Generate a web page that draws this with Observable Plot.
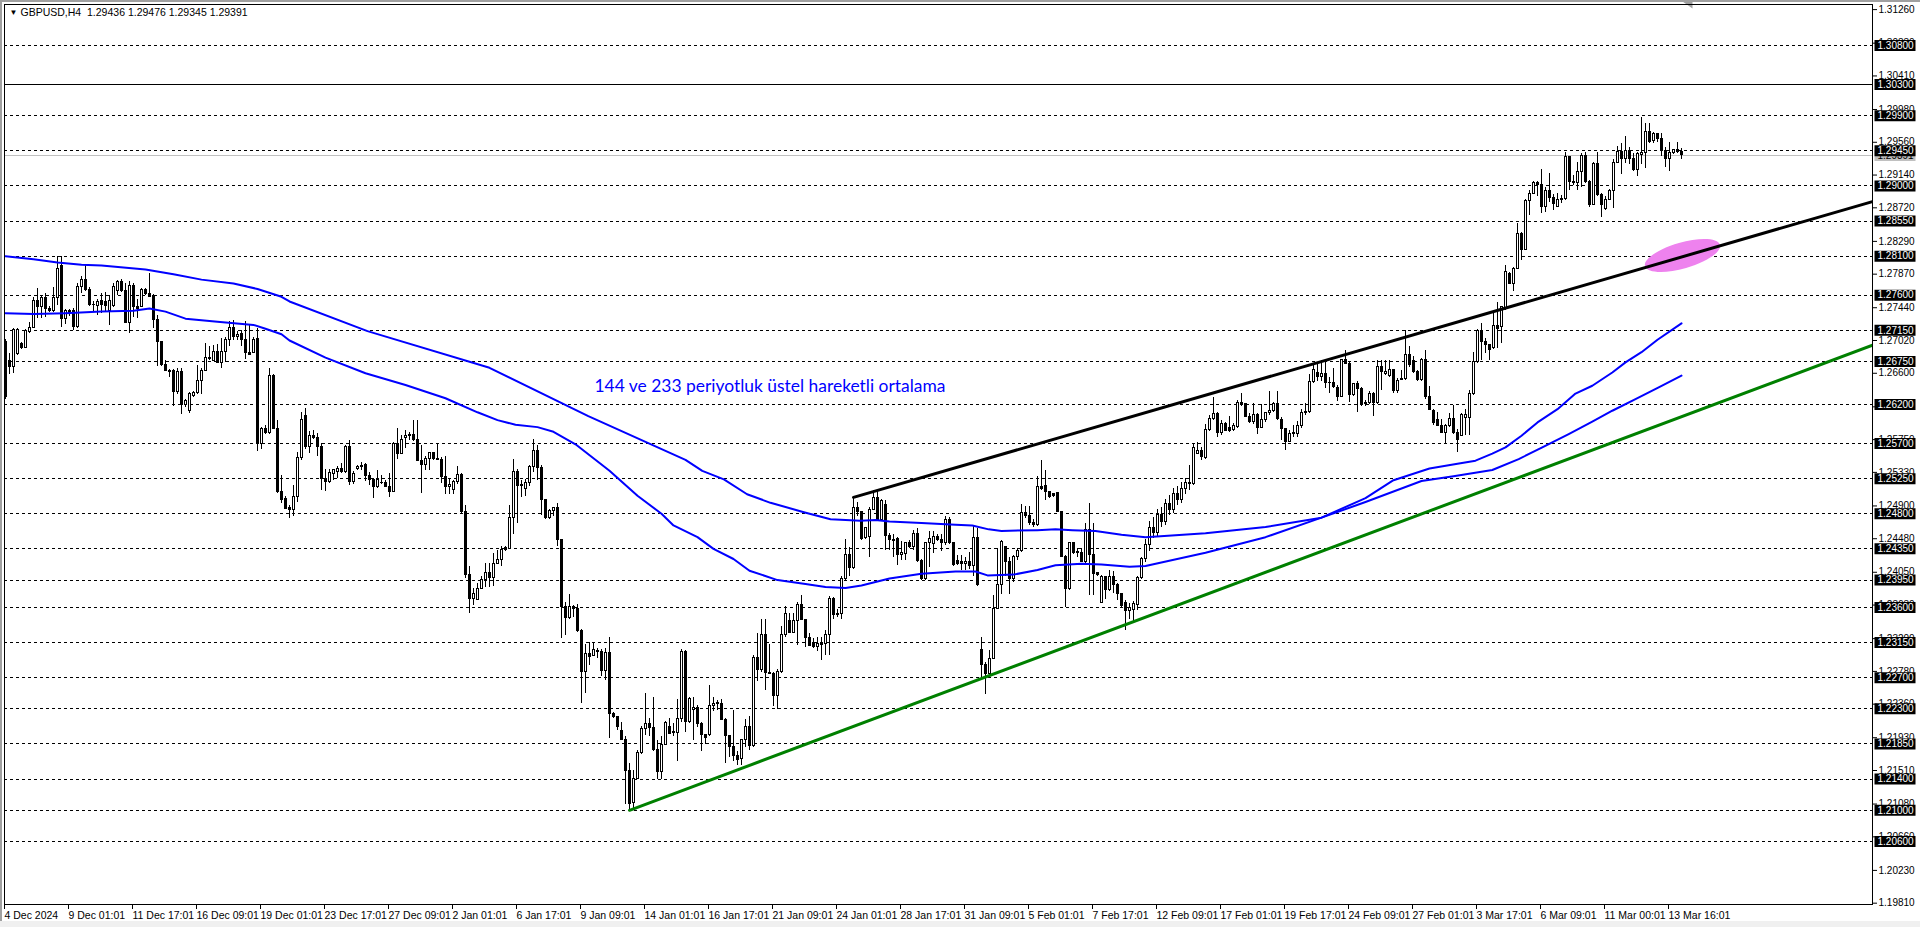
<!DOCTYPE html>
<html><head><meta charset="utf-8">
<script src="https://cdn.jsdelivr.net/npm/d3@7"></script>
<script src="https://cdn.jsdelivr.net/npm/@observablehq/plot@0.6"></script>
<style>
html,body{margin:0;padding:0;background:#fff;}
#chart{position:relative;width:1920px;height:927px;overflow:hidden;}
svg{display:block}
.chrome{position:absolute;pointer-events:none;}
</style></head><body><div id="chart"></div>
<script>
// ---- GBPUSD H4 candles (bar index 0 = 4 Dec 2024) ----
const open = [
1.2700,1.2676,1.2668,1.2685,1.2698,1.2693,1.2713,1.2718,1.2753,1.2745,
1.2757,1.2742,1.2740,1.2756,1.2798,1.2730,1.2740,1.2740,1.2719,1.2770,
1.2780,1.2767,1.2747,1.2746,1.2753,1.2751,1.2740,1.2746,1.2766,1.2777,
1.2766,1.2725,1.2772,1.2745,1.2745,1.2767,1.2762,1.2759,1.2728,1.2700,
1.2670,1.2663,1.2663,1.2636,1.2662,1.2619,1.2612,1.2631,1.2635,1.2650,
1.2663,1.2680,1.2676,1.2687,1.2673,1.2687,1.2702,1.2718,1.2706,1.2710,
1.2702,1.2686,1.2686,1.2704,1.2570,1.2589,1.2583,1.2656,1.2589,1.2508,
1.2499,1.2488,1.2485,1.2502,1.2552,1.2605,1.2566,1.2580,1.2577,1.2565,
1.2524,1.2521,1.2531,1.2533,1.2537,1.2533,1.2565,1.2521,1.2537,1.2541,
1.2542,1.2529,1.2523,1.2514,1.2520,1.2520,1.2514,1.2508,1.2569,1.2557,
1.2577,1.2579,1.2581,1.2574,1.2547,1.2542,1.2550,1.2558,1.2550,1.2549,
1.2527,1.2514,1.2510,1.2521,1.2530,1.2482,1.2401,1.2371,1.2370,1.2384,
1.2395,1.2404,1.2398,1.2416,1.2421,1.2436,1.2435,1.2475,1.2533,1.2517,
1.2512,1.2519,1.2540,1.2561,1.2539,1.2497,1.2474,1.2484,1.2488,1.2446,
1.2360,1.2346,1.2360,1.2358,1.2330,1.2277,1.2300,1.2298,1.2304,1.2303,
1.2279,1.2301,1.2224,1.2219,1.2202,1.2190,1.2151,1.2109,1.2140,1.2173,
1.2204,1.2210,1.2205,1.2177,1.2149,1.2184,1.2207,1.2200,1.2199,1.2217,
1.2303,1.2213,1.2229,1.2231,1.2211,1.2196,1.2196,1.2234,1.2236,1.2236,
1.2216,1.2195,1.2181,1.2169,1.2166,1.2190,1.2207,1.2182,1.2295,1.2280,
1.2325,1.2276,1.2275,1.2246,1.2277,1.2325,1.2343,1.2327,1.2343,1.2363,
1.2344,1.2321,1.2314,1.2309,1.2312,1.2313,1.2325,1.2371,1.2350,1.2352,
1.2397,1.2427,1.2411,1.2488,1.2482,1.2449,1.2450,1.2485,1.2500,1.2472,
1.2491,1.2451,1.2446,1.2448,1.2427,1.2428,1.2442,1.2437,1.2454,1.2420,
1.2397,1.2442,1.2441,1.2450,1.2447,1.2442,1.2472,1.2442,1.2419,1.2418,
1.2416,1.2418,1.2413,1.2449,1.2306,1.2286,1.2275,1.2294,1.2358,1.2389,
1.2437,1.2418,1.2397,1.2425,1.2432,1.2481,1.2477,1.2468,1.2465,1.2514,
1.2515,1.2508,1.2505,1.2506,1.2482,1.2425,1.2383,1.2442,1.2431,1.2430,
1.2418,1.2459,1.2427,1.2404,1.2366,1.2399,1.2382,1.2399,1.2389,1.2377,
1.2365,1.2356,1.2357,1.2363,1.2398,1.2422,1.2440,1.2462,1.2455,1.2478,
1.2470,1.2492,1.2485,1.2505,1.2498,1.2512,1.2520,1.2518,1.2556,1.2560,
1.2552,1.2587,1.2602,1.2608,1.2584,1.2595,1.2590,1.2587,1.2591,1.2622,
1.2620,1.2604,1.2597,1.2606,1.2590,1.2600,1.2609,1.2612,1.2620,1.2600,
1.2589,1.2572,1.2582,1.2582,1.2592,1.2609,1.2610,1.2649,1.2660,1.2655,
1.2659,1.2647,1.2648,1.2641,1.2630,1.2677,1.2672,1.2632,1.2646,1.2640,
1.2620,1.2622,1.2634,1.2622,1.2668,1.2659,1.2656,1.2664,1.2637,1.2651,
1.2653,1.2683,1.2676,1.2661,1.2651,1.2677,1.2630,1.2612,1.2600,1.2593,
1.2584,1.2592,1.2602,1.2583,1.2580,1.2603,1.2603,1.2634,1.2675,1.2714,
1.2700,1.2696,1.2692,1.2721,1.2719,1.2743,1.2787,1.2774,1.2794,1.2838,
1.2818,1.2881,1.2890,1.2904,1.2901,1.2873,1.2894,1.2884,1.2873,1.2882,
1.2883,1.2937,1.2905,1.2904,1.2918,1.2939,1.2905,1.2876,1.2928,1.2888,
1.2870,1.2882,1.2893,1.2930,1.2943,1.2934,1.2945,1.2934,1.2920,1.2940,
1.2942,1.2969,1.2957,1.2966,1.2960,1.2945,1.2934,1.2942,1.2946,1.29436];
const high = [
1.2703,1.2685,1.2718,1.2717,1.2700,1.2716,1.2725,1.2757,1.2768,1.2760,
1.2762,1.2745,1.2770,1.2810,1.2810,1.2742,1.2742,1.2743,1.2775,1.2784,
1.2798,1.2770,1.2752,1.2754,1.2762,1.2764,1.2760,1.2775,1.2779,1.2780,
1.2775,1.2777,1.2775,1.2755,1.2768,1.2768,1.2788,1.2761,1.2734,1.2701,
1.2677,1.2665,1.2665,1.2666,1.2666,1.2627,1.2636,1.2637,1.2670,1.2666,
1.2698,1.2694,1.2695,1.2697,1.2705,1.2706,1.2726,1.2727,1.2713,1.2715,
1.2726,1.2723,1.2706,1.2718,1.2590,1.2593,1.2666,1.2659,1.2600,1.2529,
1.2502,1.2491,1.2516,1.2558,1.2610,1.2615,1.2585,1.2587,1.2583,1.2570,
1.2537,1.2537,1.2536,1.2540,1.2545,1.2568,1.2574,1.2534,1.2542,1.2546,
1.2544,1.2533,1.2525,1.2536,1.2529,1.2523,1.2531,1.2571,1.2589,1.2580,
1.2587,1.2584,1.2600,1.2600,1.2568,1.2553,1.2559,1.2559,1.2570,1.2552,
1.2553,1.2525,1.2523,1.2540,1.2532,1.2491,1.2412,1.2384,1.2391,1.2399,
1.2416,1.2416,1.2429,1.2433,1.2438,1.2438,1.2491,1.2549,1.2537,1.2522,
1.2524,1.2542,1.2575,1.2567,1.2542,1.2498,1.2486,1.2488,1.2493,1.2447,
1.2366,1.2376,1.2362,1.2364,1.2332,1.2313,1.2315,1.2315,1.2307,1.2306,
1.2307,1.2322,1.2225,1.2220,1.2212,1.2194,1.2160,1.2151,1.2176,1.2208,
1.2250,1.2217,1.2245,1.2190,1.2194,1.2214,1.2217,1.2211,1.2242,1.2306,
1.2305,1.2245,1.2245,1.2234,1.2212,1.2197,1.2260,1.2244,1.2241,1.2242,
1.2217,1.2196,1.2228,1.2175,1.2191,1.2216,1.2220,1.2298,1.2327,1.2344,
1.2344,1.2313,1.2277,1.2281,1.2335,1.2361,1.2352,1.2352,1.2366,1.2375,
1.2345,1.2326,1.2320,1.2322,1.2322,1.2330,1.2374,1.2373,1.2357,1.2400,
1.2447,1.2437,1.2500,1.2494,1.2482,1.2463,1.2488,1.2510,1.2508,1.2498,
1.2497,1.2455,1.2453,1.2450,1.2444,1.2443,1.2446,1.2458,1.2461,1.2422,
1.2443,1.2457,1.2457,1.2454,1.2454,1.2476,1.2475,1.2443,1.2426,1.2426,
1.2424,1.2430,1.2464,1.2461,1.2321,1.2290,1.2305,1.2375,1.2435,1.2446,
1.2438,1.2424,1.2427,1.2435,1.2492,1.2489,1.2489,1.2472,1.2528,1.2548,
1.2535,1.2509,1.2506,1.2507,1.2483,1.2427,1.2443,1.2443,1.2436,1.2435,
1.2468,1.2493,1.2467,1.2405,1.2401,1.2400,1.2407,1.2406,1.2391,1.2378,
1.2369,1.2365,1.2367,1.2399,1.2424,1.2447,1.2470,1.2475,1.2485,1.2488,
1.2498,1.2503,1.2512,1.2515,1.2520,1.2525,1.2542,1.2570,1.2571,1.2565,
1.2594,1.2606,1.2629,1.2610,1.2600,1.2597,1.2604,1.2596,1.2625,1.2634,
1.2621,1.2609,1.2621,1.2608,1.2620,1.2610,1.2637,1.2623,1.2637,1.2603,
1.2589,1.2587,1.2593,1.2598,1.2614,1.2621,1.2658,1.2671,1.2674,1.2676,
1.2676,1.2655,1.2666,1.2644,1.2678,1.2689,1.2674,1.2647,1.2649,1.2642,
1.2625,1.2637,1.2636,1.2676,1.2676,1.2676,1.2676,1.2665,1.2653,1.2663,
1.2715,1.2694,1.2681,1.2664,1.2679,1.2689,1.2643,1.2614,1.2610,1.2601,
1.2594,1.2609,1.2619,1.2588,1.2608,1.2613,1.2638,1.2687,1.2716,1.2724,
1.2705,1.2697,1.2738,1.2751,1.2746,1.2798,1.2789,1.2796,1.2852,1.2840,
1.2883,1.2894,1.2906,1.2906,1.2921,1.2898,1.2916,1.2889,1.2891,1.2888,
1.2943,1.2938,1.2913,1.2930,1.2942,1.2943,1.2907,1.2930,1.2943,1.2891,
1.2886,1.2895,1.2934,1.2950,1.2955,1.2963,1.2949,1.2941,1.2943,1.2988,
1.2980,1.2980,1.2969,1.2967,1.2967,1.2949,1.2956,1.2947,1.2956,1.29476];
const low = [
1.2627,1.2659,1.2660,1.2683,1.2690,1.2692,1.2711,1.2717,1.2730,1.2730,
1.2732,1.2738,1.2738,1.2747,1.2719,1.2723,1.2733,1.2715,1.2717,1.2762,
1.2765,1.2745,1.2739,1.2734,1.2736,1.2738,1.2721,1.2744,1.2760,1.2764,
1.2724,1.2711,1.2731,1.2730,1.2744,1.2760,1.2757,1.2717,1.2669,1.2669,
1.2662,1.2655,1.2617,1.2633,1.2607,1.2616,1.2608,1.2629,1.2633,1.2633,
1.2663,1.2676,1.2675,1.2672,1.2666,1.2674,1.2694,1.2702,1.2702,1.2694,
1.2678,1.2683,1.2685,1.2560,1.2562,1.2582,1.2582,1.2589,1.2506,1.2493,
1.2485,1.2474,1.2476,1.2494,1.2548,1.2562,1.2557,1.2575,1.2553,1.2510,
1.2508,1.2519,1.2523,1.2525,1.2532,1.2532,1.2516,1.2518,1.2535,1.2536,
1.2521,1.2516,1.2500,1.2512,1.2518,1.2514,1.2501,1.2507,1.2549,1.2557,
1.2563,1.2574,1.2573,1.2547,1.2506,1.2536,1.2535,1.2548,1.2548,1.2519,
1.2505,1.2505,1.2505,1.2518,1.2479,1.2397,1.2352,1.2363,1.2369,1.2383,
1.2386,1.2386,1.2387,1.2415,1.2413,1.2431,1.2435,1.2454,1.2467,1.2501,
1.2502,1.2515,1.2533,1.2522,1.2478,1.2472,1.2472,1.2477,1.2438,1.2320,
1.2324,1.2345,1.2347,1.2328,1.2237,1.2250,1.2286,1.2297,1.2294,1.2272,
1.2266,1.2192,1.2217,1.2202,1.2189,1.2108,1.2100,1.2101,1.2140,1.2172,
1.2196,1.2194,1.2175,1.2139,1.2140,1.2183,1.2198,1.2194,1.2162,1.2213,
1.2200,1.2211,1.2190,1.2206,1.2175,1.2184,1.2194,1.2226,1.2228,1.2215,
1.2160,1.2168,1.2162,1.2158,1.2157,1.2181,1.2177,1.2181,1.2265,1.2277,
1.2254,1.2274,1.2233,1.2229,1.2275,1.2322,1.2326,1.2326,1.2311,1.2343,
1.2309,1.2310,1.2307,1.2303,1.2292,1.2298,1.2298,1.2345,1.2347,1.2345,
1.2395,1.2399,1.2408,1.2476,1.2446,1.2447,1.2424,1.2484,1.2471,1.2470,
1.2433,1.2433,1.2424,1.2414,1.2420,1.2420,1.2435,1.2433,1.2418,1.2395,
1.2395,1.2411,1.2429,1.2444,1.2431,1.2439,1.2441,1.2412,1.2414,1.2407,
1.2407,1.2409,1.2399,1.2387,1.2267,1.2249,1.2271,1.2293,1.2357,1.2377,
1.2399,1.2377,1.2392,1.2420,1.2430,1.2474,1.2465,1.2463,1.2464,1.2510,
1.2497,1.2499,1.2501,1.2481,1.2425,1.2360,1.2382,1.2428,1.2424,1.2417,
1.2416,1.2375,1.2375,1.2399,1.2365,1.2370,1.2381,1.2378,1.2369,1.2360,
1.2331,1.2344,1.2339,1.2356,1.2396,1.2418,1.2432,1.2448,1.2450,1.2462,
1.2465,1.2478,1.2480,1.2490,1.2493,1.2505,1.2510,1.2516,1.2556,1.2548,
1.2550,1.2585,1.2600,1.2578,1.2580,1.2585,1.2584,1.2585,1.2589,1.2618,
1.2603,1.2596,1.2595,1.2582,1.2589,1.2597,1.2606,1.2610,1.2600,1.2574,
1.2561,1.2571,1.2578,1.2578,1.2589,1.2606,1.2608,1.2647,1.2649,1.2650,
1.2640,1.2634,1.2641,1.2624,1.2629,1.2671,1.2623,1.2630,1.2610,1.2617,
1.2618,1.2620,1.2604,1.2620,1.2638,1.2657,1.2655,1.2634,1.2634,1.2651,
1.2651,1.2667,1.2660,1.2650,1.2650,1.2627,1.2612,1.2593,1.2592,1.2583,
1.2570,1.2591,1.2582,1.2558,1.2579,1.2580,1.2580,1.2632,1.2672,1.2677,
1.2685,1.2677,1.2691,1.2692,1.2698,1.2741,1.2774,1.2765,1.2793,1.2804,
1.2817,1.2862,1.2889,1.2886,1.2865,1.2866,1.2879,1.2868,1.2872,1.2877,
1.2882,1.2894,1.2900,1.2894,1.2898,1.2903,1.2872,1.2875,1.2886,1.2859,
1.2869,1.2881,1.2871,1.2929,1.2915,1.2929,1.2928,1.2918,1.2912,1.2928,
1.2922,1.2955,1.2955,1.2956,1.2938,1.2924,1.2918,1.2940,1.2941,1.29345];
const close = [
1.2630,1.2668,1.2716,1.2716,1.2693,1.2714,1.2718,1.2753,1.2745,1.2757,
1.2742,1.2740,1.2756,1.2794,1.2730,1.2740,1.2736,1.2719,1.2770,1.2780,
1.2767,1.2747,1.2748,1.2751,1.2747,1.2746,1.2753,1.2770,1.2777,1.2766,
1.2725,1.2772,1.2745,1.2742,1.2767,1.2761,1.2758,1.2728,1.2700,1.2670,
1.2663,1.2662,1.2636,1.2662,1.2619,1.2624,1.2633,1.2635,1.2650,1.2663,
1.2680,1.2678,1.2687,1.2673,1.2687,1.2702,1.2718,1.2706,1.2709,1.2702,
1.2686,1.2684,1.2703,1.2570,1.2589,1.2583,1.2656,1.2589,1.2508,1.2497,
1.2486,1.2485,1.2502,1.2552,1.2600,1.2566,1.2580,1.2577,1.2565,1.2524,
1.2521,1.2532,1.2536,1.2537,1.2533,1.2565,1.2521,1.2531,1.2540,1.2540,
1.2529,1.2523,1.2514,1.2523,1.2519,1.2514,1.2508,1.2569,1.2557,1.2574,
1.2579,1.2581,1.2574,1.2547,1.2542,1.2550,1.2558,1.2550,1.2549,1.2527,
1.2514,1.2517,1.2521,1.2530,1.2482,1.2401,1.2371,1.2377,1.2384,1.2395,
1.2404,1.2398,1.2416,1.2421,1.2434,1.2434,1.2475,1.2533,1.2516,1.2516,
1.2519,1.2540,1.2561,1.2539,1.2497,1.2474,1.2484,1.2488,1.2446,1.2360,
1.2346,1.2360,1.2358,1.2330,1.2277,1.2300,1.2297,1.2305,1.2303,1.2279,
1.2301,1.2224,1.2219,1.2207,1.2190,1.2151,1.2108,1.2140,1.2173,1.2204,
1.2210,1.2205,1.2177,1.2149,1.2184,1.2212,1.2198,1.2199,1.2217,1.2303,
1.2213,1.2242,1.2231,1.2211,1.2196,1.2193,1.2234,1.2236,1.2237,1.2216,
1.2195,1.2181,1.2169,1.2165,1.2190,1.2207,1.2182,1.2295,1.2280,1.2325,
1.2276,1.2275,1.2246,1.2277,1.2325,1.2351,1.2327,1.2343,1.2363,1.2344,
1.2321,1.2311,1.2309,1.2313,1.2313,1.2325,1.2371,1.2350,1.2352,1.2397,
1.2427,1.2411,1.2488,1.2482,1.2448,1.2462,1.2485,1.2500,1.2472,1.2496,
1.2451,1.2446,1.2445,1.2427,1.2430,1.2442,1.2437,1.2454,1.2420,1.2397,
1.2442,1.2448,1.2450,1.2447,1.2442,1.2472,1.2442,1.2414,1.2416,1.2416,
1.2418,1.2413,1.2449,1.2389,1.2286,1.2275,1.2294,1.2358,1.2389,1.2444,
1.2418,1.2397,1.2425,1.2432,1.2481,1.2477,1.2468,1.2465,1.2514,1.2512,
1.2508,1.2501,1.2503,1.2482,1.2425,1.2383,1.2442,1.2430,1.2430,1.2418,
1.2459,1.2427,1.2403,1.2402,1.2399,1.2382,1.2399,1.2389,1.2377,1.2362,
1.2356,1.2359,1.2364,1.2398,1.2422,1.2440,1.2462,1.2455,1.2478,1.2470,
1.2492,1.2485,1.2505,1.2498,1.2512,1.2520,1.2518,1.2564,1.2560,1.2553,
1.2587,1.2602,1.2608,1.2584,1.2595,1.2586,1.2586,1.2592,1.2622,1.2619,
1.2604,1.2597,1.2606,1.2590,1.2600,1.2609,1.2612,1.2620,1.2601,1.2589,
1.2572,1.2582,1.2583,1.2592,1.2609,1.2610,1.2649,1.2664,1.2655,1.2659,
1.2647,1.2648,1.2642,1.2630,1.2677,1.2672,1.2632,1.2646,1.2640,1.2619,
1.2622,1.2634,1.2622,1.2668,1.2662,1.2662,1.2664,1.2637,1.2650,1.2653,
1.2683,1.2670,1.2661,1.2651,1.2677,1.2630,1.2613,1.2596,1.2593,1.2584,
1.2593,1.2602,1.2583,1.2575,1.2607,1.2607,1.2634,1.2675,1.2714,1.2700,
1.2696,1.2690,1.2721,1.2717,1.2745,1.2790,1.2775,1.2794,1.2838,1.2818,
1.2881,1.2890,1.2904,1.2901,1.2873,1.2894,1.2884,1.2877,1.2882,1.2883,
1.2937,1.2905,1.2904,1.2918,1.2939,1.2905,1.2876,1.2928,1.2888,1.2875,
1.2882,1.2893,1.2930,1.2943,1.2934,1.2945,1.2934,1.2920,1.2941,1.2942,
1.2969,1.2956,1.2966,1.2960,1.2945,1.2934,1.2942,1.2946,1.2943,1.29391];

// ---- moving averages (bar index, value) ----
const ema144Bar = [0,7,15,24,32,36,40,45,53,62,65,69,71,80,90,100,110,118,123,127.5,133,137,142.5,151,158,164,167,173,177,182,186,193,200,205,210,214,221,229,237.5,242.5,245.5,252,258,262.5,269,274,281,285,300,315,329,340,347,356,363,367.5,371.7,375,379,383,388,392.5,396.7,401.7,405,409,413,419];
const ema144Val = [1.2737,1.2736,1.2737,1.2739,1.2740,1.2743,1.2739,1.2730,1.2726,1.2722,1.2717,1.2710,1.2702,1.2680,1.2660,1.2645,1.2628,1.2610,1.2600,1.2594,1.2591,1.2585,1.2569,1.2535,1.2503,1.2480,1.2465,1.2450,1.2435,1.2422,1.2407,1.2395,1.2390,1.2386,1.2385,1.2388,1.2397,1.2403,1.2406,1.2406,1.2401,1.2402,1.2408,1.2414,1.2416,1.2415,1.2412,1.2413,1.2430,1.2450,1.2475,1.2500,1.2523,1.2538,1.2544,1.2548,1.2557,1.2565,1.2580,1.2597,1.2614,1.2634,1.2644,1.2661,1.2674,1.2687,1.2703,1.2724];
const ema233Bar = [0,7,13,19,24,35,42,49,57,63,69,71,90.5,121,145.7,170,174.2,179.6,185.4,191.25,199.6,206.25,213.75,217.5,221,229,237.5,241.7,245.8,249,258,262.5,266.7,272.5,279,285,300,315,329,340,354,362,371.7,378.3,384.2,390.8,396.7,401.7,407.5,413.3,419];
const ema233Val = [1.2810,1.2806,1.2802,1.2799,1.2798,1.2793,1.2787,1.2780,1.2775,1.2768,1.2758,1.2752,1.2714,1.2667,1.2605,1.2549,1.2535,1.2524,1.2505,1.2494,1.2482,1.2473,1.2471,1.2472,1.2470,1.2468,1.2466,1.2465,1.2460,1.2458,1.2459,1.2460,1.2459,1.2458,1.2453,1.2450,1.2455,1.2463,1.2475,1.2495,1.2522,1.2528,1.2536,1.2550,1.2565,1.2582,1.2598,1.2612,1.2627,1.2642,1.2657];

// ---- drawn objects ----
const resistanceBar = [212, 466.75], resistanceVal = [1.2501, 1.2880];
const supportBar = [156, 466.75], supportVal = [1.2100, 1.2696];
const zoneBar = [419.25], zoneVal = [1.2811];
const noteBar = [147.25], noteVal = [1.2643];
const noteText = ["144 ve 233 periyotluk üstel hareketli ortalama"];

// ---- axes ----
const timeLabels = ["4 Dec 2024","9 Dec 01:01","11 Dec 17:01","16 Dec 09:01","19 Dec 01:01","23 Dec 17:01","27 Dec 09:01","2 Jan 01:01","6 Jan 17:01","9 Jan 09:01","14 Jan 01:01","16 Jan 17:01","21 Jan 09:01","24 Jan 01:01","28 Jan 17:01","31 Jan 09:01","5 Feb 01:01","7 Feb 17:01","12 Feb 09:01","17 Feb 01:01","19 Feb 17:01","24 Feb 09:01","27 Feb 01:01","3 Mar 17:01","6 Mar 09:01","11 Mar 00:01","13 Mar 16:01"];
const barsPerTimeLabel = 16;
const priceTicks = [1.31260,1.30830,1.30410,1.29980,1.29560,1.29140,1.28720,1.28290,1.27870,1.27440,1.27020,1.26600,1.26170,1.25750,1.25330,1.24900,1.24480,1.24050,1.23630,1.23200,1.22780,1.22360,1.21930,1.21510,1.21080,1.20660,1.20230,1.19810];
const dashedLevels = [1.30800,1.29900,1.29450,1.29000,1.28550,1.28100,1.27600,1.27150,1.26750,1.26200,1.25700,1.25250,1.24800,1.24350,1.23950,1.23600,1.23150,1.22700,1.22300,1.21850,1.21400,1.21000,1.20600];
const solidLevels = [1.30300];
const headerSymbol = "GBPUSD,H4";

// ---- build ----
const bars = open.map((o, i) => ({i, o, h: high[i], l: low[i], c: close[i]}));
const last = bars[bars.length - 1];
const ema144 = ema144Bar.map((b, k) => ({b, v: ema144Val[k]}));
const ema233 = ema233Bar.map((b, k) => ({b, v: ema233Val[k]}));
const resistance = resistanceBar.map((b, k) => ({b, v: resistanceVal[k]}));
const support = supportBar.map((b, k) => ({b, v: supportVal[k]}));
const zone = zoneBar.map((b, k) => ({b, v: zoneVal[k]}));
const notes = noteBar.map((b, k) => ({b, v: noteVal[k], t: noteText[k]}));
const timeTicks = timeLabels.map((_, k) => k * barsPerTimeLabel);
const boxLevels = [...dashedLevels, ...solidLevels];
const fmt5 = d => d.toFixed(5);
const header = `${headerSymbol}  ${[last.o, last.h, last.l, last.c].map(fmt5).join(" ")}`;

const ellipseSymbol = {
  draw(ctx) {
    const a = 39, b = 13, k = 0.5523;
    ctx.moveTo(a, 0);
    ctx.bezierCurveTo(a, k * b, k * a, b, 0, b);
    ctx.bezierCurveTo(-k * a, b, -a, k * b, -a, 0);
    ctx.bezierCurveTo(-a, -k * b, -k * a, -b, 0, -b);
    ctx.bezierCurveTo(k * a, -b, a, -k * b, a, 0);
    ctx.closePath();
  }
};
const boxSymbol = { draw(ctx) { ctx.rect(-20.5, -5.5, 41, 11); } };
const shiftSymbol = { draw(ctx) { ctx.moveTo(-5, 0); ctx.lineTo(5, 0); ctx.lineTo(5, 7); ctx.closePath(); } };

const AX = "Liberation Sans, Arial, sans-serif";
const chart = Plot.plot({
  width: 1920, height: 927,
  marginLeft: 4, marginRight: 48, marginTop: 4, marginBottom: 23,
  x: {type: "linear", domain: [-0.25, 466.75], axis: null},
  y: {type: "linear", domain: [1.19793, 1.313254], axis: null},
  style: {background: "white", fontFamily: AX, color: "black"},
  marks: [
    Plot.ruleY(dashedLevels, {stroke: "black", strokeDasharray: "3,3", shapeRendering: "crispEdges"}),
    Plot.ruleY(solidLevels, {stroke: "black", shapeRendering: "crispEdges"}),
    Plot.ruleY([last.c], {stroke: "#c0c0c0", shapeRendering: "crispEdges"}),
    Plot.dot(zone, {x: "b", y: "v", symbol: ellipseSymbol, fill: "#ee82ee", stroke: null, rotate: -16}),
    Plot.ruleX(bars, {x: "i", y1: "l", y2: "h", stroke: "black", shapeRendering: "crispEdges"}),
    Plot.rect(bars, {x1: d => d.i - 0.25, x2: d => d.i + 0.25, y1: "o", y2: "c",
      fill: d => d.c >= d.o ? "white" : "black", stroke: "black", shapeRendering: "crispEdges"}),
    Plot.line(ema233, {x: "b", y: "v", stroke: "#0000ff", strokeWidth: 2}),
    Plot.line(ema144, {x: "b", y: "v", stroke: "#0000ff", strokeWidth: 2}),
    Plot.line(resistance, {x: "b", y: "v", stroke: "black", strokeWidth: 3, clip: true}),
    Plot.line(support, {x: "b", y: "v", stroke: "#008000", strokeWidth: 3, clip: true}),
    Plot.text(notes, {x: "b", y: "v", text: "t", textAnchor: "start", fill: "#0000ff",
      fontSize: 17, fontFamily: "Lato, 'Open Sans', sans-serif"}),
    Plot.text([header], {text: d => d, frameAnchor: "top-left", dx: 16, dy: 8, textAnchor: "start",
      lineAnchor: "middle", fontSize: 10.5, fill: "black"}),
    Plot.text(["▼"], {text: d => d, frameAnchor: "top-left", dx: 5, dy: 8, textAnchor: "start",
      lineAnchor: "middle", fontSize: 8, fill: "black"}),
    Plot.dot([last.i + 1.5], {x: d => d, frameAnchor: "top", dy: -3, symbol: shiftSymbol, fill: "#a0a0a0", stroke: null}),
    Plot.frame({stroke: "black", shapeRendering: "crispEdges"}),
    Plot.axisY(priceTicks, {anchor: "right", tickSize: 4, tickPadding: 2, tickFormat: fmt5,
      fontSize: 10, fontFamily: AX}),
    Plot.dot([last.c], {y: d => d, frameAnchor: "right", dx: 22.5, symbol: boxSymbol, fill: "#c0c0c0", stroke: null}),
    Plot.text([last.c], {y: d => d, frameAnchor: "right", dx: 5, textAnchor: "start", text: fmt5,
      fill: "black", fontSize: 10, fontFamily: AX}),
    Plot.dot(boxLevels, {y: d => d, frameAnchor: "right", dx: 22.5, symbol: boxSymbol, fill: "black", stroke: null}),
    Plot.text(boxLevels, {y: d => d, frameAnchor: "right", dx: 5, textAnchor: "start", text: fmt5,
      fill: "white", fontSize: 10, fontFamily: AX}),
    Plot.axisX(timeTicks, {anchor: "bottom", tickSize: 5, tickPadding: 2,
      tickFormat: d => timeLabels[d / barsPerTimeLabel], textAnchor: "start", dx: -1,
      fontSize: 10.5, fontFamily: AX})
  ]
});
const host = document.getElementById("chart");
host.appendChild(chart);
// window chrome around the chart panel
[["0px","0px","1920px","2px","#a0a0a0"],["0px","0px","2px","927px","#a0a0a0"],["0px","921px","1920px","6px","#f0f0f0"]]
  .forEach(([l,t,w,h,c]) => { const d = document.createElement("div"); d.className = "chrome";
    Object.assign(d.style, {left: l, top: t, width: w, height: h, background: c}); host.appendChild(d); });
// fit the annotation to the reference width
chart.querySelectorAll("text").forEach(t => {
  if (t.textContent === noteText[0]) { t.setAttribute("textLength", 351); t.setAttribute("lengthAdjust", "spacingAndGlyphs"); }
});
</script>
</body></html>
